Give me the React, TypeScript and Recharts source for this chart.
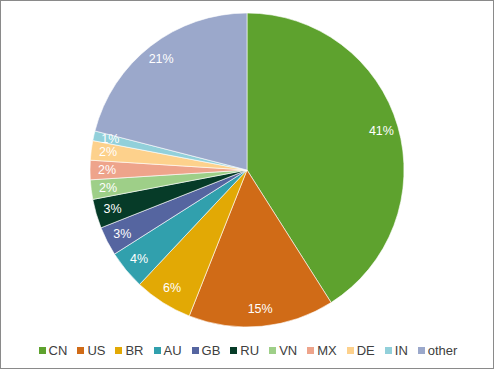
import React from 'react'
import { PieChart, Pie, Cell, Legend } from 'recharts'

const countries = ['CN', 'US', 'BR', 'AU', 'GB', 'RU', 'VN', 'MX', 'DE', 'IN', 'other']
const shares = [41, 15, 6, 4, 3, 3, 2, 2, 2, 1, 21]
const colors = [
	'#5ea22e',
	'#d06b17',
	'#e2a905',
	'#31a0ad',
	'#5565a0',
	'#063b28',
	'#9ecf88',
	'#eea48b',
	'#fdd18c',
	'#92d0da',
	'#9ba8cb',
]

const data = countries.map((name, i) => ({ name, value: shares[i] }))

const RADIAN = Math.PI / 180

const renderLabel = (props: any) => {
	const { cx, cy, midAngle, outerRadius, value } = props
	const r = outerRadius - 17
	const x = cx + r * Math.cos(-midAngle * RADIAN)
	const y = cy + r * Math.sin(-midAngle * RADIAN)
	return (
		<text
			x={x}
			y={y}
			fill='#ffffff'
			textAnchor='middle'
			dominantBaseline='central'
			fontSize={12.5}
			fontFamily='Liberation Sans, Arial, sans-serif'>
			{value}%
		</text>
	)
}

// legend in series order, not sorted
const renderLegend = () => (
	<div
		style={{
			display: 'flex',
			justifyContent: 'center',
			fontSize: 13,
			lineHeight: '15px',
			color: '#404040',
			fontFamily: 'Liberation Sans, Arial, sans-serif',
			paddingLeft: 12,
		}}>
		{countries.map((c, i) => (
			<span
				key={c}
				style={{ display: 'inline-flex', alignItems: 'center', marginRight: 10 }}>
				<span
					style={{
						display: 'inline-block',
						width: 7,
						height: 7,
						background: colors[i],
						marginRight: 3,
					}}
				/>
				{c}
			</span>
		))}
	</div>
)

const App = () => {
	return (
		<div
			style={{
				position: 'absolute',
				left: 0,
				top: 0,
				width: 494,
				height: 369,
				border: '1px solid #8a8a8a',
				boxSizing: 'border-box',
				background: '#fff',
			}}>
			<PieChart
				width={492}
				height={367}
				margin={{ top: 0, right: 0, bottom: 0, left: 0 }}>
				<Pie
					data={data}
					dataKey='value'
					nameKey='name'
					cx={246}
					cy={169}
					outerRadius={157}
					startAngle={90}
					endAngle={-270}
					stroke='#ffffff'
					strokeWidth={0.6}
					label={renderLabel}
					labelLine={false}
					isAnimationActive={false}>
					{data.map((d, i) => (
						<Cell
							key={d.name}
							fill={colors[i]}
						/>
					))}
				</Pie>
				<Legend
					verticalAlign='bottom'
					content={renderLegend}
					wrapperStyle={{ top: 342, bottom: 'auto', left: 0, width: 492 }}
				/>
			</PieChart>
		</div>
	)
}

export default App
